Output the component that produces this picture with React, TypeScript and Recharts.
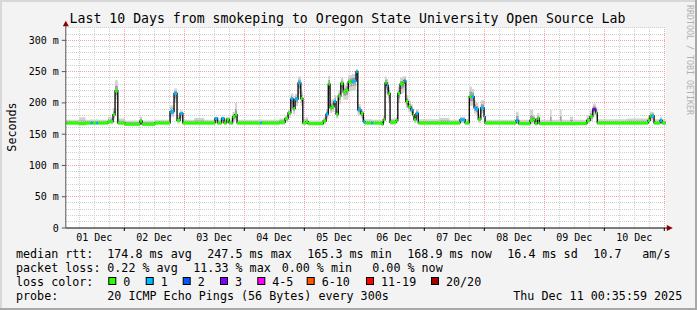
import React from 'react'
import {
  ComposedChart,
  Area,
  Line,
  XAxis,
  YAxis,
  CartesianGrid,
  ReferenceLine,
  ReferenceDot,
} from 'recharts'

// hours since 01 Dec 00:00; every sample holds until the next one (rrd step look)
const hours = [
  0.6, 6.0, 8.5, 10.6, 11.3, 12.7, 13.4, 17.5, 19.5, 20.3, 21.4,
  24.3, 30.3, 31.1, 36.3, 42.3, 43.9, 45.1, 46.3, 47.4,
  52.0, 56.0, 60.3, 61.3, 62.9, 63.9, 64.9, 65.9, 67.3, 68.3, 69.1,
  78.3, 78.9, 86.0, 88.3, 89.5, 90.6, 91.6, 92.3, 93.5, 94.6, 95.4,
  96.7, 97.5, 103.6, 104.7, 105.6, 106.3, 107.0, 107.9, 108.7, 109.6, 110.6,
  111.6, 112.7, 113.6, 115.0, 116.7, 117.4, 118.6, 119.6, 120.3,
  122.7, 123.3, 127.0, 127.6, 128.3, 129.0, 129.6, 130.3, 132.7, 133.4, 134.3,
  135.4, 136.0, 136.6, 137.6, 138.6, 139.4, 139.9, 140.7, 141.6,
  150.0, 154.0, 158.3, 160.3, 162.0, 163.0, 163.9, 164.7, 165.6, 166.6, 167.9, 168.3,
  180.7, 181.7, 186.3, 187.6, 188.3, 189.2, 190.0,
  194.3, 194.9, 198.3, 198.9, 202.3, 203.5, 209.0, 210.3, 211.4, 212.6, 213.2,
  225.0, 233.5, 234.3, 235.0, 235.9, 238.3, 239.1, 240.6,
]

// median round trip time, ms
const medianMs = [
  168, 167, 168, 168, 168, 168, 168, 170, 181, 219, 168,
  166, 171, 166, 168, 186, 215, 172, 183, 168,
  168, 168, 175, 168, 175, 168, 174, 168, 178, 181, 168,
  168, 168, 169, 175, 184, 206, 191, 206, 232, 207, 168,
  170, 167, 171, 182, 230, 192, 194, 202, 182, 211, 231,
  218, 220, 234, 235, 250, 189, 183, 170, 168,
  168, 168, 166, 173, 232, 228, 215, 169, 172, 215, 230,
  232, 235, 202, 194, 189, 181, 173, 183, 168,
  168, 168, 173, 168, 210, 210, 192, 190, 174, 192, 178, 168,
  172, 167, 172, 174, 167, 175, 167,
  167, 167, 167, 167, 167, 167, 172, 178, 190, 184, 168,
  168, 172, 179, 179, 168, 172, 168, 168,
]

// lost pings out of 20
const lossCount = [
  0, 0, 0, 1, 0, 1, 0, 0, 0, 0, 0,
  0, 0, 0, 0, 1, 1, 0, 1, 0,
  0, 0, 1, 0, 1, 0, 0, 0, 0, 0, 0,
  1, 0, 0, 0, 0, 1, 0, 1, 1, 0, 0,
  0, 0, 0, 1, 0, 0, 0, 1, 0, 0, 0,
  0, 0, 0, 1, 1, 1, 0, 1, 0,
  1, 0, 0, 0, 0, 1, 0, 0, 0, 0, 0,
  0, 1, 0, 0, 1, 0, 0, 1, 0,
  0, 0, 1, 0, 0, 1, 1, 1, 0, 1, 1, 0,
  1, 0, 0, 0, 0, 0, 0,
  0, 0, 0, 0, 0, 0, 0, 0, 3, 0, 0,
  0, 0, 0, 1, 0, 1, 0, 0,
]

// smoke: fastest and slowest pings, ms
const smokeLoMs = [
  165, 164, 165, 165, 165, 165, 165, 166, 174, 205, 165,
  163, 166, 163, 165, 178, 200, 167, 175, 165,
  165, 165, 168, 165, 168, 165, 168, 165, 170, 172, 165,
  165, 165, 165, 169, 176, 192, 182, 195, 215, 195, 165,
  166, 164, 166, 174, 212, 184, 186, 192, 175, 198, 215,
  205, 205, 218, 220, 235, 180, 175, 166, 165,
  165, 165, 163, 168, 215, 212, 200, 165, 167, 200, 214,
  216, 220, 192, 185, 180, 174, 168, 175, 165,
  165, 165, 168, 165, 195, 196, 183, 181, 168, 183, 170, 165,
  167, 164, 166, 168, 164, 168, 164,
  164, 164, 164, 164, 164, 164, 167, 171, 181, 177, 165,
  165, 167, 172, 172, 165, 167, 165, 165,
]
const smokeHiMs = [
  173, 177, 173, 174, 173, 174, 173, 178, 192, 236, 175,
  172, 178, 172, 173, 196, 223, 180, 188, 173,
  176, 173, 178, 173, 178, 173, 177, 173, 186, 200, 173,
  174, 173, 175, 180, 190, 215, 200, 214, 242, 218, 175,
  177, 172, 177, 190, 243, 204, 206, 212, 192, 220, 240,
  228, 232, 244, 246, 254, 198, 190, 177, 174,
  174, 173, 171, 180, 242, 238, 225, 175, 178, 226, 240,
  242, 243, 212, 204, 198, 188, 180, 190, 174,
  176, 173, 178, 174, 226, 222, 204, 200, 182, 204, 186, 173,
  186, 173, 189, 180, 173, 184, 173,
  189, 173, 190, 173, 178, 173, 180, 188, 199, 194, 174,
  175, 180, 186, 186, 174, 178, 174, 174,
]

const dayLabels = ['01 Dec', '02 Dec', '03 Dec', '04 Dec', '05 Dec', '06 Dec', '07 Dec', '08 Dec', '09 Dec', '10 Dec']
const dayNoons = [12, 36, 60, 84, 108, 132, 156, 180, 204, 228]
const yTicks = [0, 50, 100, 150, 200, 250, 300]

const lossLabels = ['0', '1', '2', '3', '4-5', '6-10', '11-19', '20/20']
const lossUpper = [0, 1, 2, 3, 5, 10, 19, 20]
const lossColors = ['#26ff00', '#00b8ff', '#0059ff', '#7e00ff', '#ff00ff', '#ff5500', '#ff0000', '#a10000']

const title = 'Last 10 Days from smokeping to Oregon State University Open Source Lab'
const medianStats = ['174.8 ms avg', '247.5 ms max', '165.3 ms min', '168.9 ms now', '16.4 ms sd', '10.7', 'am/s']
const lossStats = ['0.22 % avg', '11.33 % max', '0.00 % min', '0.00 % now']
const probeText = '20 ICMP Echo Pings (56 Bytes) every 300s'
const stampText = 'Thu Dec 11 00:35:59 2025'

// ---- layout ----
const W = 697
const H = 310
const MONO = '"DejaVu Sans Mono", monospace'
const X0 = 0.6
const X1 = 240.6
const medianX = [107.3, 207.3, 307.3, 407.3, 507.3, 593.3, 642.3]
const lossX = [107.3, 193.3, 281.7, 372.3]
const swatchX = [108.3, 145.7, 182.7, 220, 257.3, 306.7, 366, 431]

const samples = hours.map((h, i) => {
  const m = medianMs[i]
  const lo = smokeLoMs[i]
  const hi = smokeHiMs[i]
  return { h, m, lo, hi, ilo: m - (m - lo) / 2, ihi: m + (hi - m) / 2 }
})

const bucketOf = (n: number) => lossUpper.findIndex((u) => n <= u)

// horizontal coloured pieces of the median line, broken by nulls
const segments: { h: number; v: number | null }[][] = lossColors.map(() => [])
for (let i = 0; i < hours.length - 1; i++) {
  const s = segments[bucketOf(lossCount[i])]
  s.push({ h: hours[i], v: medianMs[i] }, { h: hours[i + 1], v: medianMs[i] }, { h: hours[i + 1], v: null })
}

const minorY: number[] = []
for (let v = 10; v <= 320; v += 10) if (v % 50 !== 0) minorY.push(v)
const majorY = yTicks.filter((v) => v > 0)
const minorX: number[] = []
const majorX: number[] = []
for (let h = 6; h <= 240; h += 6) (h % 24 === 0 ? majorX : minorX).push(h)

function DayTick(props: any) {
  const { x, y, payload } = props
  const h = payload.value as number
  if (h % 24 === 0) return <line x1={x} x2={x} y1={y} y2={y + 3} stroke="#000" />
  return (
    <text x={x} y={y + 13} textAnchor="middle" fontFamily={MONO} fontSize={10} fill="#000">
      {dayLabels[dayNoons.indexOf(h)]}
    </text>
  )
}

function XArrow(props: any) {
  const { cx, cy } = props
  return (
    <g>
      <line x1={cx} x2={cx + 3} y1={cy} y2={cy} stroke="#000" />
      <path d={`M${cx + 1},${cy - 3} L${cx + 7},${cy} L${cx + 1},${cy + 3} Z`} fill="#8b0000" />
    </g>
  )
}

function YArrow(props: any) {
  const { cx, cy } = props
  return (
    <g>
      <line x1={cx} x2={cx} y1={cy} y2={cy - 3} stroke="#555" />
      <path d={`M${cx - 3},${cy - 1.5} L${cx},${cy - 7} L${cx + 3},${cy - 1.5} Z`} fill="#8b0000" />
    </g>
  )
}

export default function App() {
  const tickFont = { fontFamily: MONO, fontSize: 10, fill: '#000' }
  return (
    <div style={{ position: 'absolute', left: 0, top: 0, width: W, height: H, background: '#f3f3f3' }}>
      <div style={{ position: 'absolute', left: 0, top: 0 }}>
        <ComposedChart width={W} height={H} margin={{ top: 27.8, right: 31.2, bottom: 62, left: 5.8 }}>
          <CartesianGrid fill="#ffffff" horizontal={false} vertical={false} />
          {minorY.map((v) => (
            <ReferenceLine key={'my' + v} y={v} stroke="#cfcfcf" strokeDasharray="1 1" shapeRendering="crispEdges" />
          ))}
          {minorX.map((h) => (
            <ReferenceLine key={'mx' + h} x={h} stroke="#cfcfcf" strokeDasharray="1 1" shapeRendering="crispEdges" />
          ))}
          {majorY.map((v) => (
            <ReferenceLine key={'My' + v} y={v} stroke="#f4a4a4" strokeDasharray="1 1" shapeRendering="crispEdges" />
          ))}
          {majorX.map((h) => (
            <ReferenceLine key={'Mx' + h} x={h} stroke="#f4a4a4" strokeDasharray="1 1" shapeRendering="crispEdges" />
          ))}
          <XAxis
            type="number"
            dataKey="h"
            domain={[X0, X1]}
            allowDataOverflow
            ticks={[...dayNoons, ...majorX].sort((a, b) => a - b)}
            interval={0}
            tick={<DayTick />}
            tickLine={false}
            tickSize={0}
            tickMargin={0}
            axisLine={{ stroke: '#000' }}
            height={20}
          />
          <YAxis
            type="number"
            domain={[0, 320]}
            allowDataOverflow
            ticks={yTicks}
            interval={0}
            tickFormatter={(v: number) => (v === 0 ? '0' : `${v} m`)}
            tick={tickFont}
            tickSize={4}
            tickMargin={3}
            tickLine={{ stroke: '#555' }}
            axisLine={{ stroke: '#555' }}
            width={60}
          />
          <Area
            data={samples}
            dataKey={(d: any) => [d.lo, d.hi]}
            type="stepAfter"
            stroke="none"
            fill="#d2d2d2"
            fillOpacity={1}
            isAnimationActive={false}
          />
          <Area
            data={samples}
            dataKey={(d: any) => [d.ilo, d.ihi]}
            type="stepAfter"
            stroke="none"
            fill="#a0a0a0"
            fillOpacity={1}
            isAnimationActive={false}
          />
          <Line
            data={samples}
            dataKey="m"
            type="stepAfter"
            stroke="#111"
            strokeWidth={1.4}
            dot={false}
            isAnimationActive={false}
          />
          {segments.map((seg, b) =>
            seg.length ? (
              <Line
                key={'seg' + b}
                data={seg}
                dataKey="v"
                type="linear"
                stroke={lossColors[b]}
                strokeWidth={3}
                dot={false}
                connectNulls={false}
                isAnimationActive={false}
              />
            ) : null,
          )}
          <ReferenceDot x={X1} y={0} r={0} shape={XArrow} ifOverflow="visible" />
          <ReferenceDot x={X0} y={320} r={0} shape={YArrow} ifOverflow="visible" />
        </ComposedChart>
      </div>
      <svg width={W} height={H} style={{ position: 'absolute', left: 0, top: 0, pointerEvents: 'none' }} fontFamily={MONO}>
        <rect x={0} y={0} width={W} height={2} fill="#d8d8d8" />
        <rect x={0} y={0} width={2} height={H} fill="#d8d8d8" />
        <rect x={W - 2} y={0} width={2} height={H} fill="#a8a8a8" />
        <rect x={0} y={H - 2} width={W} height={2} fill="#a8a8a8" />

        <text x={347.5} y={23} textAnchor="middle" fontSize={13.2} fill="#000">{title}</text>
        <text transform="translate(15.5,127) rotate(-90)" textAnchor="middle" fontSize={11.7} fill="#000">Seconds</text>
        <text transform="translate(687,5) rotate(90)" fontSize={8.5} fill="#b0b0b0" textLength={110} lengthAdjust="spacingAndGlyphs">
          RRDTOOL / TOBI OETIKER
        </text>

        <g fontSize={11.7} fill="#000" style={{ whiteSpace: 'pre' }}>
          <text x={16} y={258}>median rtt:</text>
          {medianStats.map((s, i) => (
            <text key={'ms' + i} x={medianX[i]} y={258}>{s}</text>
          ))}
          <text x={16} y={272}>packet loss:</text>
          {lossStats.map((s, i) => (
            <text key={'ls' + i} x={lossX[i]} y={272}>{s}</text>
          ))}
          <text x={16} y={286}>loss color:</text>
          {lossLabels.map((l, i) => (
            <g key={'lc' + i}>
              <rect x={swatchX[i] + 0.5} y={277.5} width={7} height={7} fill={lossColors[i]} stroke="#000" />
              <text x={swatchX[i] + 15} y={286}>{l}</text>
            </g>
          ))}
          <text x={16} y={300}>probe:</text>
          <text x={107.3} y={300}>{probeText}</text>
          <text x={513.3} y={300}>{stampText}</text>
        </g>
      </svg>
    </div>
  )
}
